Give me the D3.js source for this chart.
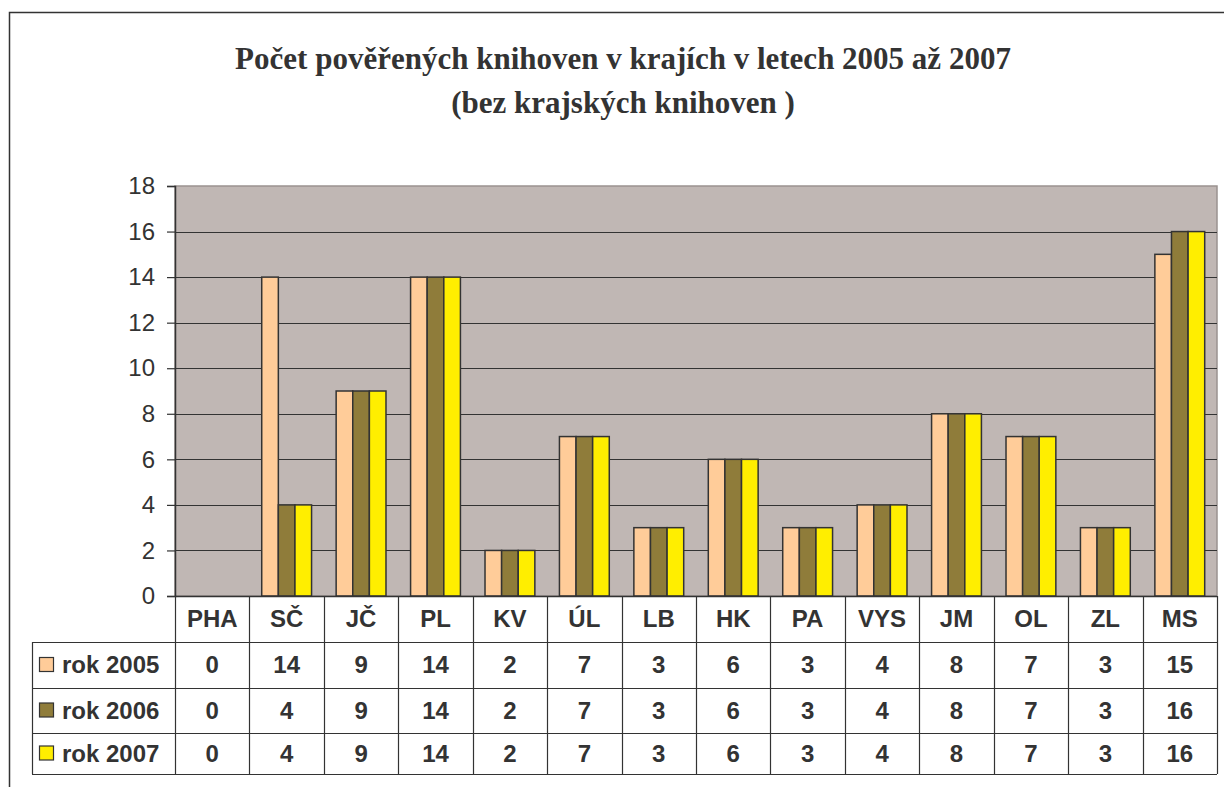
<!DOCTYPE html>
<html>
<head>
<meta charset="utf-8">
<script src="https://cdn.jsdelivr.net/npm/d3@7"></script>
<style>
  body { margin: 0; background: #fff; }
  svg { display: block; }
</style>
</head>
<body>
<div id="chart"></div>
<script>
// --- DATA ---
const categories = ["PHA", "SČ", "JČ", "PL", "KV", "ÚL", "LB", "HK", "PA", "VYS", "JM", "OL", "ZL", "MS"];
const seriesNames = ["rok 2005", "rok 2006", "rok 2007"];
const values2005 = [0, 14, 9, 14, 2, 7, 3, 6, 3, 4, 8, 7, 3, 15];
const values2006 = [0, 4, 9, 14, 2, 7, 3, 6, 3, 4, 8, 7, 3, 16];
const values2007 = [0, 4, 9, 14, 2, 7, 3, 6, 3, 4, 8, 7, 3, 16];
const yTicks = [0, 2, 4, 6, 8, 10, 12, 14, 16, 18];
const titleLines = ["Počet pověřených knihoven v krajích v letech 2005 až 2007", "(bez krajských knihoven )"];

const seriesValues = [values2005, values2006, values2007];
const seriesColors = ["#ffcc99", "#8f7c3a", "#ffee00"];

// --- SETUP ---
const width = 1224, height = 787;
const svg = d3.select("#chart").append("svg")
    .attr("width", width)
    .attr("height", height);

const plot = { left: 175, right: 1217, top: 186, bottom: 596 };
const tableLeft = 32;
const rowLines = [596, 642, 688, 733, 774];
const ink = "#333";
const fontSans = "'Liberation Sans', Arial, sans-serif";
const fs = 24;

// outer frame (left + top only visible)
svg.append("path")
    .attr("d", `M9.5,${height} V12.5 H${width}`)
    .attr("fill", "none")
    .attr("stroke", ink)
    .attr("stroke-width", 1.5);

// title
svg.append("g").selectAll("text")
    .data(titleLines)
    .join("text")
    .attr("x", 623)
    .attr("y", (d, i) => 69 + i * 44)
    .attr("text-anchor", "middle")
    .attr("font-family", "'Liberation Serif', 'Times New Roman', serif")
    .attr("font-weight", "bold")
    .attr("font-size", 31)
    .attr("fill", ink)
    .text(d => d);

// --- SCALES ---
const y = d3.scaleLinear().domain([0, 18]).range([plot.bottom, plot.top]);
const x0 = d3.scaleBand().domain(categories).range([plot.left, plot.right]).padding(0);
const x1 = d3.scaleBand().domain(d3.range(3)).range([0, x0.bandwidth()])
    .paddingInner(0).paddingOuter(0.74);

// plot background
svg.append("rect")
    .attr("x", plot.left).attr("y", plot.top)
    .attr("width", plot.right - plot.left).attr("height", plot.bottom - plot.top)
    .attr("fill", "#c0b7b4")
    .attr("stroke", "#9a9290")
    .attr("stroke-width", 1.5);

// gridlines
svg.append("g").selectAll("line")
    .data(yTicks.filter(d => d > 0 && d < 18))
    .join("line")
    .attr("x1", plot.left).attr("x2", plot.right)
    .attr("y1", d => Math.round(y(d)) + 0.5).attr("y2", d => Math.round(y(d)) + 0.5)
    .attr("stroke", ink)
    .attr("stroke-width", 1.2);

// y axis
const yAxis = svg.append("g")
    .attr("transform", `translate(${plot.left},0)`)
    .call(d3.axisLeft(y).tickValues(yTicks).tickSize(8).tickPadding(12));
yAxis.select(".domain").attr("stroke", ink).attr("stroke-width", 1.5);
yAxis.selectAll(".tick line").attr("stroke", ink).attr("stroke-width", 1.2);
yAxis.selectAll(".tick text")
    .attr("font-family", fontSans)
    .attr("font-size", fs)
    .attr("fill", ink);

// bars
const barData = [];
categories.forEach((c, ci) => {
    seriesValues.forEach((vals, si) => {
        barData.push({ cat: c, s: si, v: vals[ci] });
    });
});
svg.append("g").selectAll("rect")
    .data(barData.filter(d => d.v > 0))
    .join("rect")
    .attr("x", d => x0(d.cat) + x1(d.s))
    .attr("y", d => y(d.v))
    .attr("width", x1.bandwidth())
    .attr("height", d => y(0) - y(d.v))
    .attr("fill", d => seriesColors[d.s])
    .attr("stroke", ink)
    .attr("stroke-width", 1.5);

// --- DATA TABLE ---
const table = svg.append("g");

// horizontal lines
table.selectAll("line.h")
    .data(rowLines)
    .join("line")
    .attr("class", "h")
    .attr("x1", (d, i) => i === 0 ? plot.left : tableLeft)
    .attr("x2", plot.right)
    .attr("y1", d => d + 0.5).attr("y2", d => d + 0.5)
    .attr("stroke", ink)
    .attr("stroke-width", (d, i) => i === 0 ? 1.5 : 1.2);

// vertical lines
const colEdges = categories.map(c => x0(c)).concat([plot.right]);
table.selectAll("line.v")
    .data(colEdges)
    .join("line")
    .attr("class", "v")
    .attr("x1", d => Math.round(d) + 0.5).attr("x2", d => Math.round(d) + 0.5)
    .attr("y1", rowLines[0]).attr("y2", rowLines[4])
    .attr("stroke", ink)
    .attr("stroke-width", 1.2);
table.append("line")
    .attr("x1", tableLeft + 0.5).attr("x2", tableLeft + 0.5)
    .attr("y1", rowLines[1]).attr("y2", rowLines[4])
    .attr("stroke", ink)
    .attr("stroke-width", 1.2);

// header
table.selectAll("text.hdr")
    .data(categories)
    .join("text")
    .attr("class", "hdr")
    .attr("x", d => x0(d) + x0.bandwidth() / 2)
    .attr("y", (rowLines[0] + rowLines[1]) / 2 + 8)
    .attr("text-anchor", "middle")
    .attr("font-family", fontSans)
    .attr("font-weight", "bold")
    .attr("font-size", fs)
    .attr("fill", ink)
    .text(d => d);

// rows
seriesValues.forEach((vals, si) => {
    const cy = (rowLines[si + 1] + rowLines[si + 2]) / 2;
    const row = table.append("g");
    row.append("rect")
        .attr("x", 39.5).attr("y", cy - 7.5)
        .attr("width", 14).attr("height", 14)
        .attr("fill", seriesColors[si])
        .attr("stroke", ink)
        .attr("stroke-width", 1.2);
    row.append("text")
        .attr("x", 62)
        .attr("y", cy + 8)
        .attr("font-family", fontSans)
        .attr("font-weight", "bold")
        .attr("font-size", fs)
        .attr("fill", ink)
        .text(seriesNames[si]);
    row.selectAll("text.val")
        .data(vals)
        .join("text")
        .attr("class", "val")
        .attr("x", (d, i) => x0(categories[i]) + x0.bandwidth() / 2)
        .attr("y", cy + 8)
        .attr("text-anchor", "middle")
        .attr("font-family", fontSans)
        .attr("font-weight", "bold")
        .attr("font-size", fs)
        .attr("fill", ink)
        .text(d => d);
});
</script>
</body>
</html>
